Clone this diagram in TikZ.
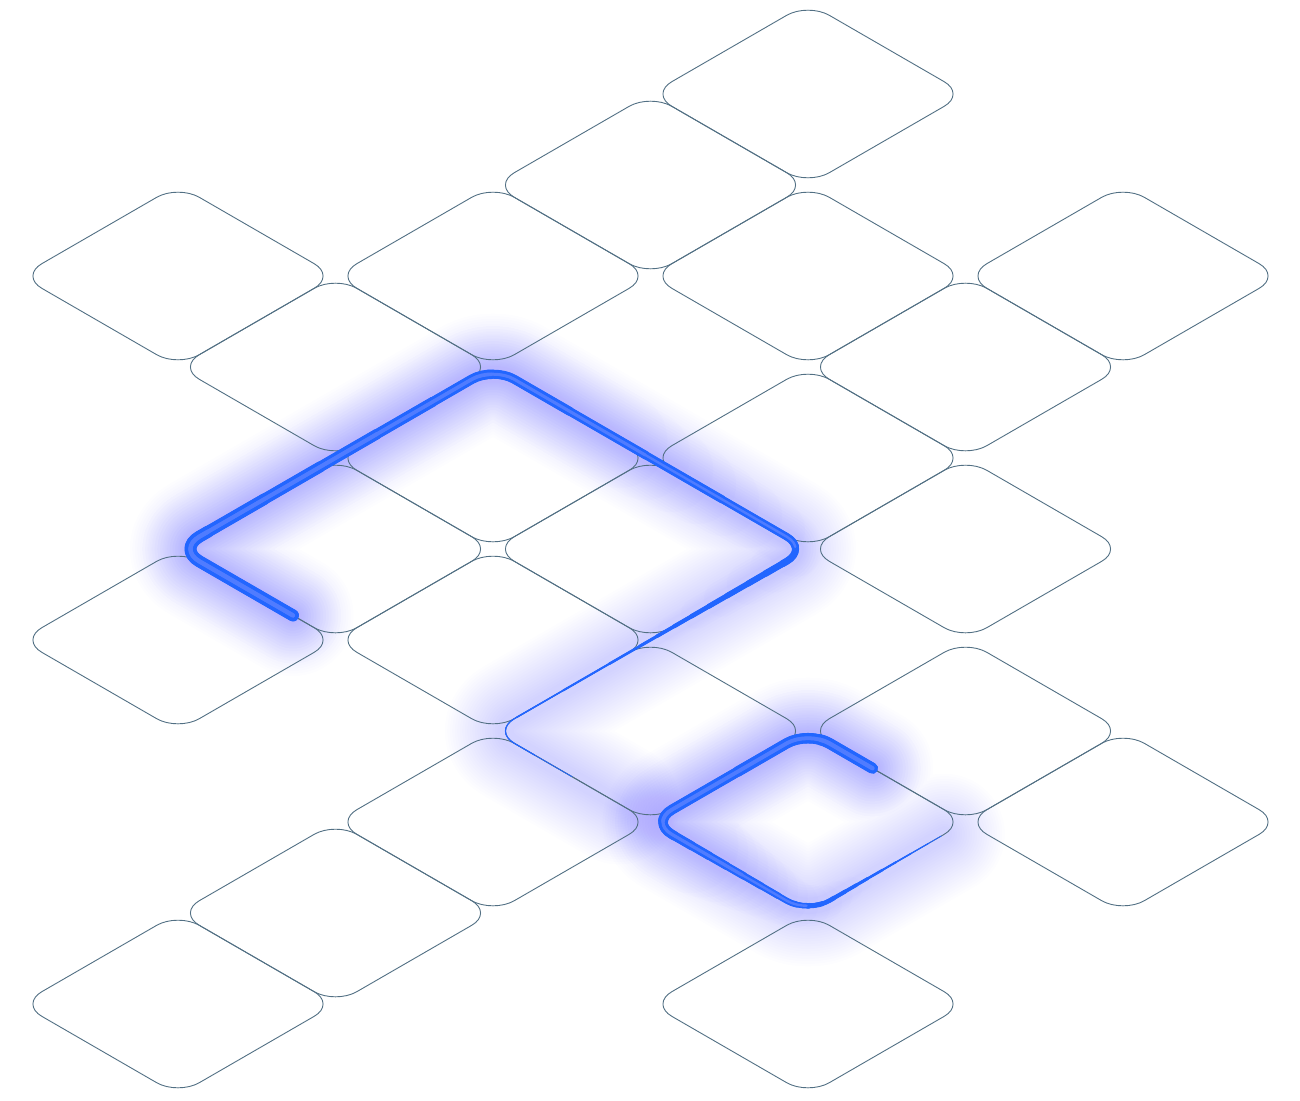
\documentclass[tikz,border=0pt]{standalone}
\usepackage{tikz}
\definecolor{tileline}{RGB}{82,112,132}
\definecolor{snakeblue}{RGB}{34,102,255}
\definecolor{snakecore}{RGB}{80,124,255}
\definecolor{glowviolet}{RGB}{104,96,255}

% one tile: a unit square of the iso grid with rounded corners
\newcommand\tileshape{(0.135,0) -- (0.865,0) .. controls (0.9396,0) and (1,0.0604) .. (1,0.135)
  -- (1,0.865) .. controls (1,0.9396) and (0.9396,1) .. (0.865,1)
  -- (0.135,1) .. controls (0.0604,1) and (0,0.9396) .. (0,0.865)
  -- (0,0.135) .. controls (0,0.0604) and (0.0604,0) .. (0.135,0) -- cycle}
\newcommand\snakeone{(1.73,5) -- (1.135,5) .. controls (1.0604,5) and (1,4.9396) .. (1,4.865)
  -- (1,3.135) .. controls (1,3.0604) and (1.0604,3) .. (1.135,3)
  -- (2.865,3) .. controls (2.9396,3) and (3,3.0604) .. (3,3.135)
  -- (3,4.865) .. controls (3,4.9396) and (3.0604,5) .. (3.135,5) -- (3.8,5)}
\newcommand\snaketwo{(4.41,4) -- (4.135,4) .. controls (4.0604,4) and (4,4.0604) .. (4,4.135)
  -- (4,4.865) .. controls (4,4.9396) and (4.0604,5) .. (4.135,5)
  -- (4.865,5) .. controls (4.9396,5) and (5,4.9396) .. (5,4.865) -- (5,4.135)}

\begin{document}
\begin{tikzpicture}[x=1pt, y=-1pt,
    iso/.style={shift={(808,3)}, x={(157.5pt,-91pt)}, y={(-157.5pt,-91pt)}},
    tile/.style={draw=tileline, line width=0.9pt},
    glow/.style={glowviolet, line cap=round, line join=round},
    body/.style={line cap=round, line join=round, dash pattern=on #1 off 5000pt}]
  \fill[white] (0,0) rectangle (1300,1100);
  \useasboundingbox (0,0) rectangle (1300,1100);
  \begin{scope}[iso]
    % soft halo, fading along the tails
    \foreach \w in {16,21,...,121}{
      \draw[glow, line width=\w pt, opacity=0.011] \snakeone;
      \draw[glow, line width=\w pt, opacity=0.011] \snaketwo;
    }
    \foreach \w in {18,24,...,96}{
      \draw[glow, body={1100pt-5*\w pt}, line width=\w pt, opacity=0.011] \snakeone;
      \draw[glow, body={520pt-2.5*\w pt}, line width=\w pt, opacity=0.011] \snaketwo;
    }
    % grid
    \foreach \p/\q in {0/0, 0/1, -1/3, 0/2, 1/1, 2/0, 0/3, 2/1, 2/2, 1/3, 1/4, 2/3,
                       3/2, 1/5, 2/4, 3/4, 4/3, 3/5, 4/4, 5/3, 3/6, 3/7, 5/5}
      \draw[tile, shift={(\p,\q)}] \tileshape;
    % tapered strokes
    \foreach \w/\l in {12/150, 11.5/215, 11/280, 10.5/345, 10/410, 9.5/475, 9/563, 8.5/651,
                       8/739, 7.5/827, 7/850, 6.5/870, 6/890, 5.5/914, 5/935, 4.5/955,
                       4/975, 3.5/995, 3/1015, 2.5/1050, 2/1103, 1.5/1157, 1.1/1215, 0.8/1258}
      \draw[body=\l pt, snakeblue, line width=\w pt] \snakeone;
    \foreach \w/\l in {11/60, 10.5/151, 10/242, 9.5/262, 9/282, 8.5/302, 8/322, 7.5/342,
                       7/362, 6.5/382, 6/402, 5.5/415, 5/428, 4.5/441, 4/454, 3.5/467,
                       3/480, 2.5/497, 2/513, 1.5/530, 1.1/550, 0.8/565}
      \draw[body=\l pt, snakeblue, line width=\w pt] \snaketwo;
    \foreach \w/\l in {4.4/150, 4/345, 3.6/475, 3/650, 2.4/827}
      \draw[body=\l pt, snakecore, line width=\w pt] \snakeone;
    \foreach \w/\l in {4.2/60, 3.8/242, 3.2/340, 2.4/412}
      \draw[body=\l pt, snakecore, line width=\w pt] \snaketwo;
  \end{scope}
\end{tikzpicture}
\end{document}
